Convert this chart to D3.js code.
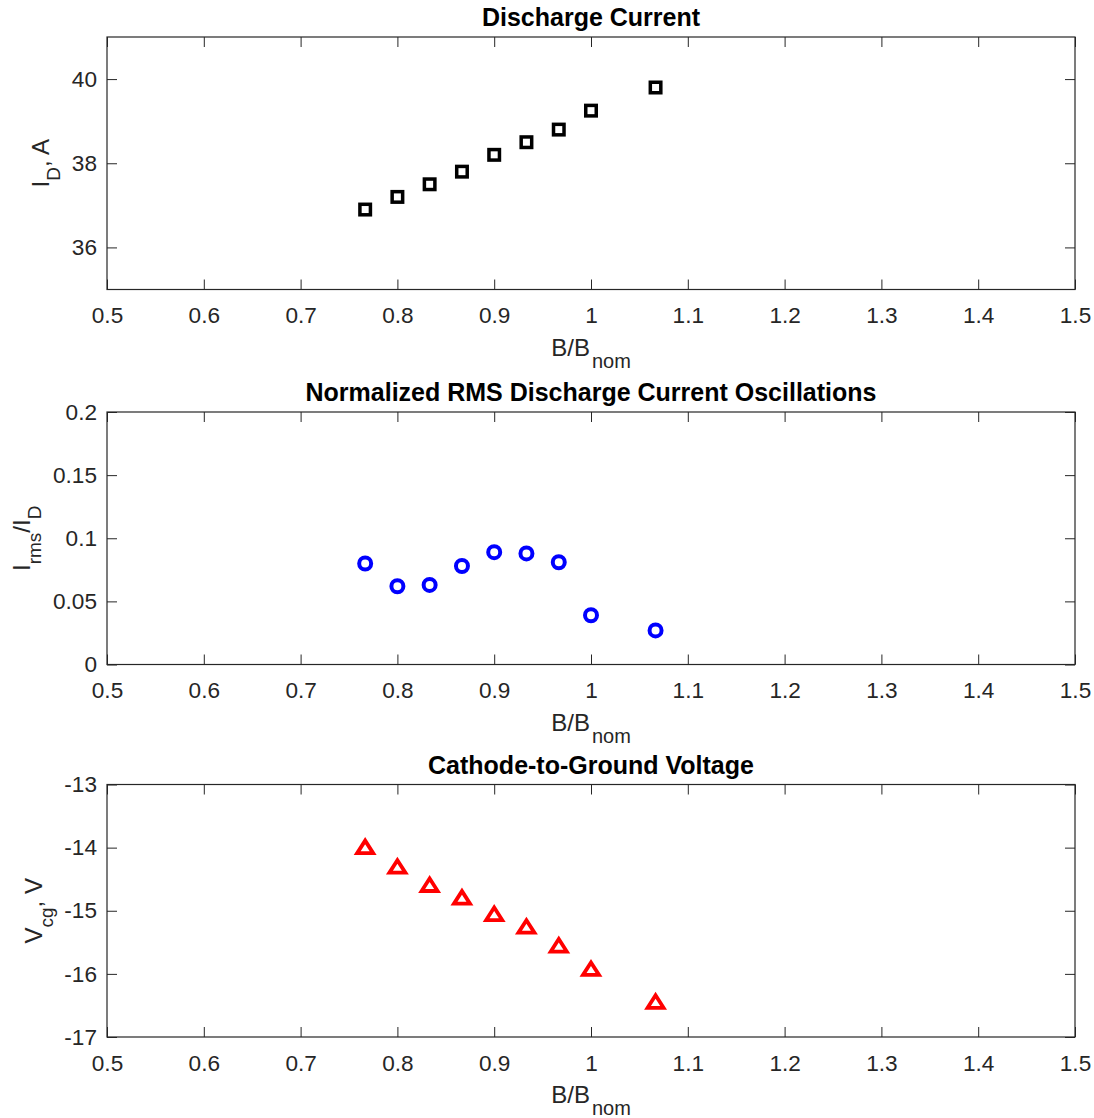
<!DOCTYPE html>
<html>
<head>
<meta charset="utf-8">
<script src="https://cdn.jsdelivr.net/npm/d3@7"></script>
<style>
  html, body { margin: 0; padding: 0; background: #fff; }
  svg { display: block; font-family: "Liberation Sans", Arial, Helvetica, sans-serif; }
</style>
</head>
<body>
<svg id="chart" width="1094" height="1118"></svg>
<script>
// ---- data ----
const bRatio = [0.7667, 0.8, 0.8333, 0.8667, 0.9, 0.9333, 0.9667, 1.0, 1.0667];
const dischargeCurrent = [36.9, 37.2, 37.5, 37.8, 38.2, 38.5, 38.8, 39.25, 39.8];
const rmsOscillation = [0.080, 0.062, 0.063, 0.078, 0.089, 0.088, 0.081, 0.039, 0.027];
const cathodeVoltage = [-14.0, -14.31, -14.6, -14.8, -15.06, -15.26, -15.56, -15.93, -16.45];

const xTicks = [0.5, 0.6, 0.7, 0.8, 0.9, 1.0, 1.1, 1.2, 1.3, 1.4, 1.5];
const yTicksCurrent = [36, 38, 40];
const yTicksRms = [0, 0.05, 0.1, 0.15, 0.2];
const yTicksVoltage = [-17, -16, -15, -14, -13];

const titles = ["Discharge Current", "Normalized RMS Discharge Current Oscillations", "Cathode-to-Ground Voltage"];

// ---- layout ----
const svg = d3.select("#chart");
const left = 107, right = 1075;
const panelTops = [37, 412, 784.5];
const panelH = 252.5;
const axisColor = "#262626";

const x = d3.scaleLinear().domain([0.5, 1.5]).range([left, right]);

const panels = [
  { values: dischargeCurrent, domain: [35, 41], ticks: yTicksCurrent, marker: "square", color: "#000000",
    ylabel: [["I", 0], ["D", 1], [", A", -1]], ylabelX: 49 },
  { values: rmsOscillation, domain: [0, 0.2], ticks: yTicksRms, marker: "circle", color: "#0000ff",
    ylabel: [["I", 0], ["rms", 1], ["/I", -1], ["D", 1]], ylabelX: 30 },
  { values: cathodeVoltage, domain: [-17, -13], ticks: yTicksVoltage, marker: "triangle", color: "#ff0000",
    ylabel: [["V", 0], ["cg", 1], [", V", -1]], ylabelX: 42 }
];

const fmt = d => String(+d.toFixed(3));
const subShift = 11;

panels.forEach((p, i) => {
  const top = panelTops[i], bottom = top + panelH;
  const y = d3.scaleLinear().domain(p.domain).range([bottom, top]);
  const g = svg.append("g");

  // axes (inward ticks)
  const styleAxis = sel => {
    sel.select(".domain").remove();
    sel.selectAll(".tick line").attr("stroke", axisColor).attr("stroke-width", 1);
    sel.selectAll(".tick text").attr("fill", axisColor).attr("font-size", 22.6)
       .attr("font-family", "'Liberation Sans', Arial, Helvetica, sans-serif");
  };
  g.append("g").attr("transform", `translate(0,${bottom})`)
    .call(d3.axisBottom(x).tickValues(xTicks).tickFormat(fmt).tickSize(-10).tickSizeOuter(0).tickPadding(17.5))
    .call(styleAxis);
  g.append("g").attr("transform", `translate(0,${top})`)
    .call(d3.axisTop(x).tickValues(xTicks).tickFormat("").tickSize(-10).tickSizeOuter(0))
    .call(styleAxis);
  g.append("g").attr("transform", `translate(${left},0)`)
    .call(d3.axisLeft(y).tickValues(p.ticks).tickFormat(fmt).tickSize(-10).tickSizeOuter(0).tickPadding(10))
    .call(styleAxis);
  g.append("g").attr("transform", `translate(${right},0)`)
    .call(d3.axisRight(y).tickValues(p.ticks).tickFormat("").tickSize(-10).tickSizeOuter(0))
    .call(styleAxis);

  // box
  g.append("rect").attr("x", left).attr("y", top).attr("width", right - left).attr("height", panelH)
    .attr("fill", "none").attr("stroke", axisColor).attr("stroke-width", 1.2);

  // title
  g.append("text").attr("x", (left + right) / 2).attr("y", top - 11)
    .attr("text-anchor", "middle").attr("font-size", 25).attr("font-weight", "bold").attr("fill", "#000")
    .text(titles[i]);

  // x label  B/B_nom
  const xl = g.append("text").attr("x", (left + right) / 2).attr("y", bottom + 66)
    .attr("text-anchor", "middle").attr("font-size", 24).attr("fill", axisColor);
  xl.append("tspan").text("B/B");
  xl.append("tspan").attr("font-size", 20).attr("dy", subShift + 1).attr("dx", 2).text("nom");

  // y label
  const cy = (top + bottom) / 2;
  const yl = g.append("text").attr("transform", `translate(${p.ylabelX},${cy}) rotate(-90)`)
    .attr("text-anchor", "middle").attr("font-size", 24).attr("fill", axisColor);
  let level = 0;
  p.ylabel.forEach(([txt, lv]) => {
    const target = lv === 1 ? 1 : 0;
    const dy = (target - level) * subShift;
    level = target;
    yl.append("tspan").attr("font-size", target ? 19 : 24).attr("dy", dy).text(txt);
  });

  // markers
  const pts = bRatio.map((b, k) => ({ b, v: p.values[k] }));
  const mg = g.append("g");
  if (p.marker === "square") {
    mg.selectAll("rect").data(pts).join("rect")
      .attr("x", d => x(d.b) - 5.25).attr("y", d => y(d.v) - 5.25)
      .attr("width", 10.5).attr("height", 10.5)
      .attr("fill", "none").attr("stroke", p.color).attr("stroke-width", 3.5);
  } else if (p.marker === "circle") {
    mg.selectAll("circle").data(pts).join("circle")
      .attr("cx", d => x(d.b)).attr("cy", d => y(d.v)).attr("r", 6)
      .attr("fill", "none").attr("stroke", p.color).attr("stroke-width", 4);
  } else {
    mg.selectAll("path").data(pts).join("path")
      .attr("transform", d => `translate(${x(d.b)},${y(d.v)})`)
      .attr("d", "M0,-7L8,5.5L-8,5.5Z")
      .attr("fill", "none").attr("stroke", p.color).attr("stroke-width", 3.8)
      .attr("stroke-linejoin", "miter");
  }
});
</script>
</body>
</html>
